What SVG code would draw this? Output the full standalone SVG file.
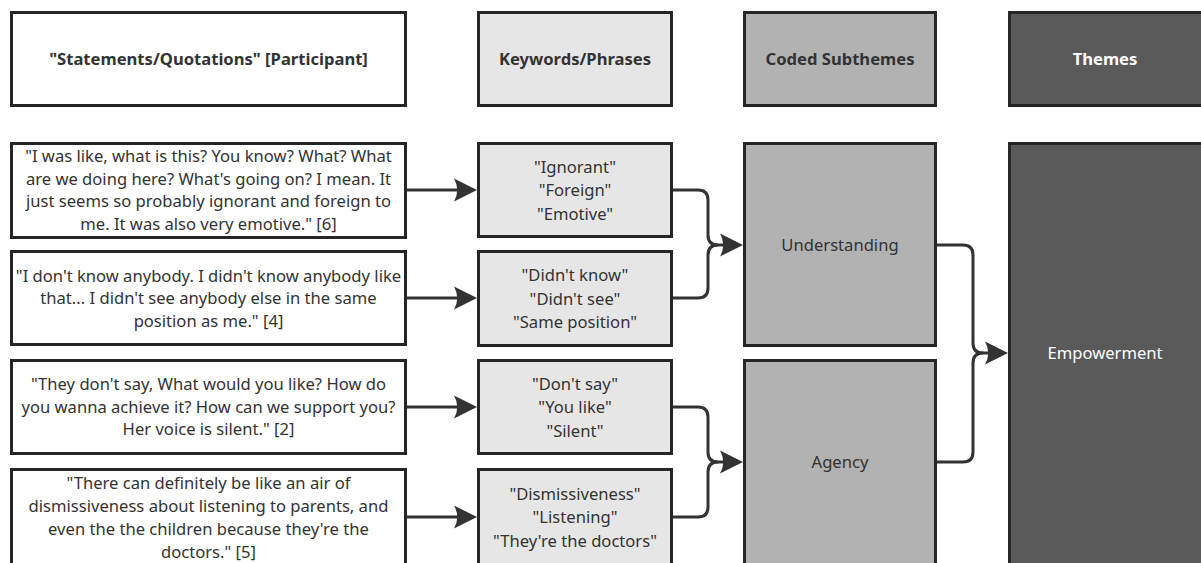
<svg xmlns="http://www.w3.org/2000/svg" width="1201" height="563" viewBox="0 0 1201 563">
  <style>
    .box{stroke:#262626;stroke-width:3}
    .q{fill:#ffffff}
    .k{fill:#e6e6e6}
    .s{fill:#b2b2b2}
    .t{fill:#595959}
    text{font-family:"Noto Sans","Open Sans","DejaVu Sans",sans-serif;font-size:16.6px;fill:#333333;text-anchor:middle}
    .h{font-weight:bold}
    .w{fill:#ffffff}
    .conn{fill:none;stroke:#333333;stroke-width:3}
  </style>
  <defs>
    <marker id="arr" viewBox="0 0 23 24" refX="14" refY="12" markerWidth="23" markerHeight="24" markerUnits="userSpaceOnUse" orient="auto">
      <path d="M0,0.5 L23,12 L0,23.5 Q6.5,12 0,0.5 Z" fill="#333333"/>
    </marker>
  </defs>
  <rect width="1201" height="563" fill="#ffffff"/>

  <g id="header-quotes">
    <rect class="box q" x="11.5" y="12.5" width="394" height="93"/>
    <text class="h" x="208.5" y="65">"Statements/Quotations" [Participant]</text>
  </g>
  <g id="header-keywords">
    <rect class="box k" x="478.5" y="12.5" width="193" height="93"/>
    <text class="h" x="575" y="65">Keywords/Phrases</text>
  </g>
  <g id="header-subthemes">
    <rect class="box s" x="744.5" y="12.5" width="191" height="93"/>
    <text class="h" x="840" y="65">Coded Subthemes</text>
  </g>
  <g id="header-themes">
    <rect class="box t" x="1009.5" y="12.5" width="194" height="93"/>
    <text class="h w" x="1105" y="65">Themes</text>
  </g>

  <g id="quote1">
    <rect class="box q" x="11.5" y="143.5" width="394" height="94"/>
    <text x="208.5" y="162">"I was like, what is this? You know? What? What</text>
    <text x="208.5" y="184.5">are we doing here? What's going on? I mean. It</text>
    <text x="208.5" y="207">just seems so probably ignorant and foreign to</text>
    <text x="208.5" y="229.5">me. It was also very emotive." [6]</text>
  </g>
  <g id="quote2">
    <rect class="box q" x="11.5" y="251.5" width="394" height="93"/>
    <text x="208.5" y="282">"I don't know anybody. I didn't know anybody like</text>
    <text x="208.5" y="304">that... I didn't see anybody else in the same</text>
    <text x="208.5" y="326.5">position as me." [4]</text>
  </g>
  <g id="quote3">
    <rect class="box q" x="11.5" y="360.5" width="394" height="93"/>
    <text x="208.5" y="390">"They don't say, What would you like? How do</text>
    <text x="208.5" y="412.5">you wanna achieve it? How can we support you?</text>
    <text x="208.5" y="435">Her voice is silent." [2]</text>
  </g>
  <g id="quote4">
    <rect class="box q" x="11.5" y="469.5" width="394" height="100"/>
    <text x="208.5" y="489">"There can definitely be like an air of</text>
    <text x="208.5" y="512">dismissiveness about listening to parents, and</text>
    <text x="208.5" y="535">even the the children because they're the</text>
    <text x="208.5" y="558">doctors." [5]</text>
  </g>

  <g id="keywords1">
    <rect class="box k" x="478.5" y="143.5" width="193" height="93"/>
    <text x="575" y="172.5">"Ignorant"</text>
    <text x="575" y="196">"Foreign"</text>
    <text x="575" y="219.5">"Emotive"</text>
  </g>
  <g id="keywords2">
    <rect class="box k" x="478.5" y="251.5" width="193" height="94"/>
    <text x="575" y="281">"Didn't know"</text>
    <text x="575" y="304.5">"Didn't see"</text>
    <text x="575" y="328">"Same position"</text>
  </g>
  <g id="keywords3">
    <rect class="box k" x="478.5" y="360.5" width="193" height="93"/>
    <text x="575" y="389.5">"Don't say"</text>
    <text x="575" y="413">"You like"</text>
    <text x="575" y="436.5">"Silent"</text>
  </g>
  <g id="keywords4">
    <rect class="box k" x="478.5" y="469.5" width="193" height="100"/>
    <text x="575" y="499.5">"Dismissiveness"</text>
    <text x="575" y="523">"Listening"</text>
    <text x="575" y="546.5">"They're the doctors"</text>
  </g>

  <g id="subtheme-understanding">
    <rect class="box s" x="744.5" y="143.5" width="191" height="202"/>
    <text x="840" y="251">Understanding</text>
  </g>
  <g id="subtheme-agency">
    <rect class="box s" x="744.5" y="360.5" width="191" height="210"/>
    <text x="840" y="468">Agency</text>
  </g>

  <g id="theme-empowerment">
    <rect class="box t" x="1009.5" y="143.5" width="194" height="430"/>
    <text class="w" x="1105" y="359">Empowerment</text>
  </g>

  <g id="connectors">
    <path class="conn" d="M407,190 H468" marker-end="url(#arr)"/>
    <path class="conn" d="M407,298 H468" marker-end="url(#arr)"/>
    <path class="conn" d="M407,407 H468" marker-end="url(#arr)"/>
    <path class="conn" d="M407,517 H468" marker-end="url(#arr)"/>

    <path class="conn" d="M673,190 H698 Q708,190 708,200 V235 Q708,245 718,245 H734" marker-end="url(#arr)"/>
    <path class="conn" d="M673,298 H698 Q708,298 708,288 V255 Q708,245 718,245"/>

    <path class="conn" d="M673,407 H698 Q708,407 708,417 V452 Q708,462 718,462 H734" marker-end="url(#arr)"/>
    <path class="conn" d="M673,517 H698 Q708,517 708,507 V472 Q708,462 718,462"/>

    <path class="conn" d="M937,245 H963 Q973,245 973,255 V343 Q973,353 983,353 H999" marker-end="url(#arr)"/>
    <path class="conn" d="M937,462 H963 Q973,462 973,452 V363 Q973,353 983,353"/>
  </g>
</svg>
